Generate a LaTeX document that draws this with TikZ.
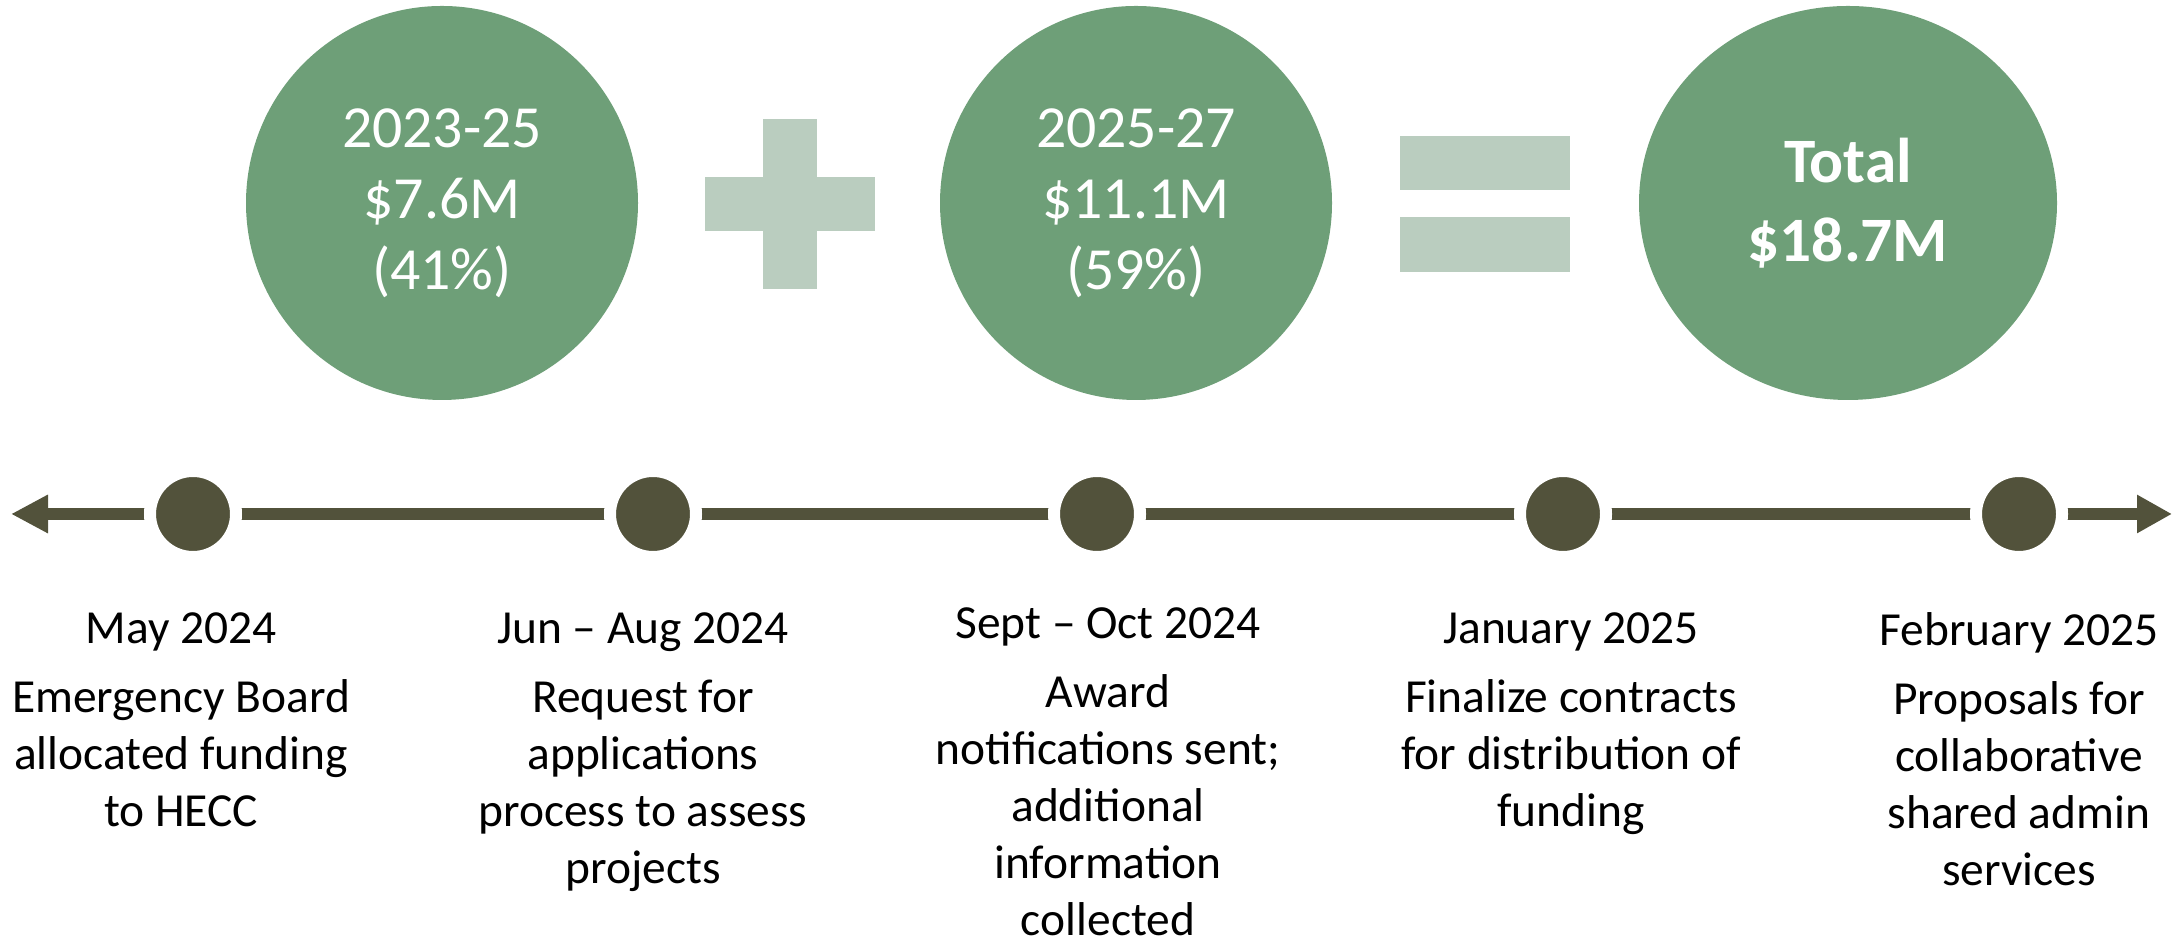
\documentclass[tikz,border=0pt]{standalone}
\usepackage{fontspec}
\setmainfont{Carlito}
\usetikzlibrary{arrows.meta,shapes.geometric,positioning}
\definecolor{fundgreen}{RGB}{110,159,120}
\definecolor{signgreen}{RGB}{186,205,191}
\definecolor{tldark}{RGB}{82,82,59}

\begin{document}
\begin{tikzpicture}[
		fund/.style={ellipse, fill=fundgreen, text=white, align=center, inner sep=0, minimum width=3.92cm, minimum height=3.94cm, font=\fontsize{17}{20.2}\selectfont},
		sign/.style={fill=signgreen},
		tl/.style={draw=tldark, line width=1.2mm},
		tldot/.style={circle, fill=tldark, draw=white, line width=1.2mm, minimum size=8.6mm, inner sep=0},
		tltext/.style={anchor=north, align=center, inner sep=0, font=\fontsize{13.5}{16.2}\selectfont}
	]
			\useasboundingbox (0,0) rectangle (21.77,9.39);
			% funding circles
			\node[fund] (fund1) at (4.42, 7.36) {2023-25\\\$7.6M\\(41\%)};
			\node[fund] (fund2) at (11.36, 7.36) {2025-27\\\$11.1M\\(59\%)};
			\node[fund, minimum width=4.18cm, font=\fontsize{18}{22.5}\selectfont\bfseries] (total) at (18.48, 7.36) {Total\\\$18.7M};
			% plus and equals
			\fill[sign] (7.05, 7.08) rectangle (8.75, 7.62);
			\fill[sign] (7.63, 6.50) rectangle (8.17, 8.20);
			\fill[sign] (14.00, 7.49) rectangle (15.70, 8.03);
			\fill[sign] (14.00, 6.67) rectangle (15.70, 7.22);
			% timeline
			\coordinate (tl-left) at (0.11, 4.25);
			\coordinate (tl-right) at (21.72, 4.25);
			\draw[tl, {Triangle[length=3.7mm,width=3.6mm]}-{Triangle[length=3.5mm,width=3.6mm]}] (tl-left) -- (tl-right);
			\node[tldot] (d1) at (1.93, 4.25) {};
			\node[tldot] (d2) at (6.53, 4.25) {};
			\node[tldot] (d3) at (10.97, 4.25) {};
			\node[tldot] (d4) at (15.63, 4.25) {};
			\node[tldot] (d5) at (20.19, 4.25) {};
			% milestones
			\node[tltext] (m1) at (1.81, 3.27) {May 2024\\[3.4pt]Emergency Board\\allocated funding\\to HECC};
			\node[tltext] (m2) at (6.43, 3.27) {Jun -- Aug 2024\\[3.4pt]Request for\\applications\\process to assess\\projects};
			\node[tltext] (m3) at (11.08, 3.32) {Sept -- Oct 2024\\[3.4pt]Award\\notifications sent;\\additional\\information\\collected};
			\node[tltext] (m4) at (15.71, 3.27) {January 2025\\[3.4pt]Finalize contracts\\for distribution of\\funding};
			\node[tltext] (m5) at (20.19, 3.27) {February 2025\\[3.4pt]Proposals for\\collaborative\\shared admin\\services};
		\end{tikzpicture}
\end{document}
